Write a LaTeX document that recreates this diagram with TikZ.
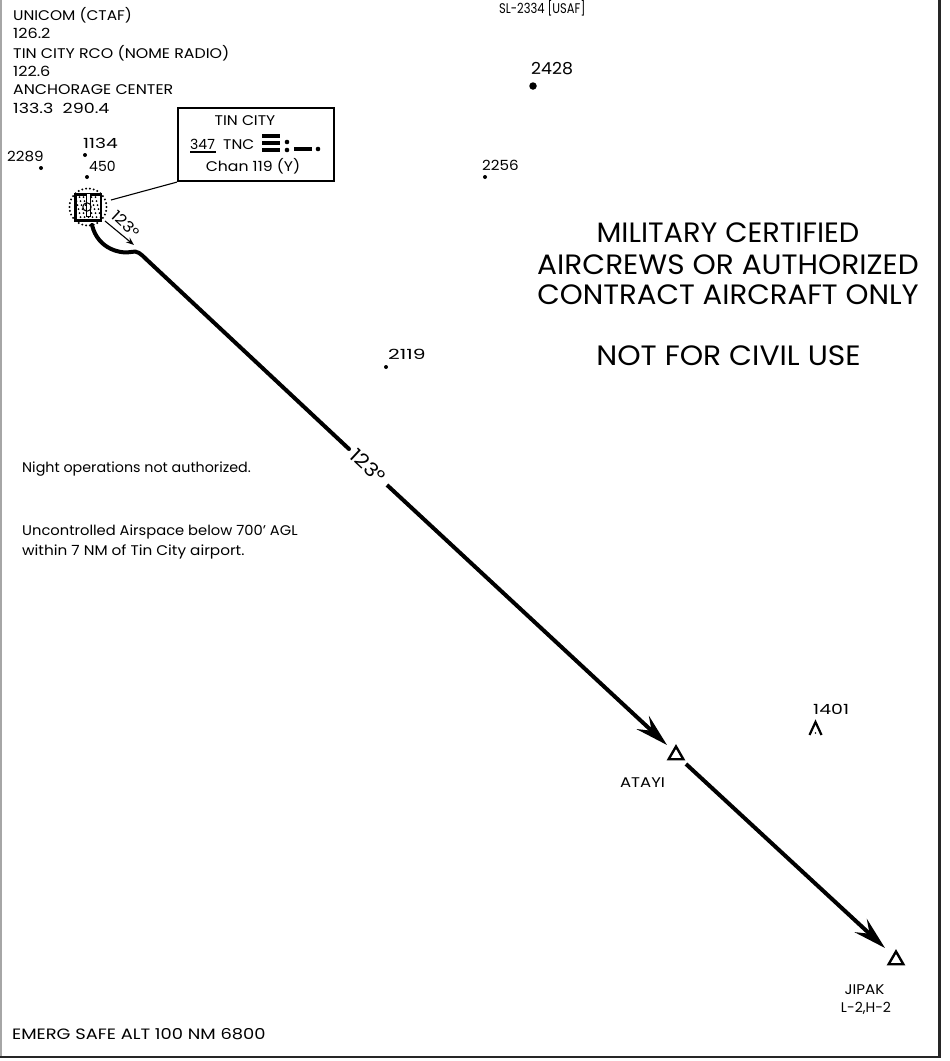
\documentclass[tikz,border=0pt]{standalone}
\usepackage{fontspec}
\setmainfont{Poppins}
\usetikzlibrary{arrows.meta,shapes.geometric}
\newcommand{\sx}[2]{\scalebox{#1}[1]{#2}}
\tikzset{
  x=1pt,y=-1pt,
  lab/.style={anchor=base west,inner sep=0,font=\fontsize{14}{16}\selectfont},
  labc/.style={anchor=base,inner sep=0,font=\fontsize{14}{16}\selectfont},
  big/.style={anchor=base,inner sep=0,font=\fontsize{28}{30}\selectfont},
  spot/.style={circle,fill=black,inner sep=0,minimum size=4pt},
  fix/.style={regular polygon,regular polygon sides=3,draw=black,line width=2.4pt,inner sep=0,minimum size=17pt},
  route/.style={line width=4pt,draw=black},
  routearrow/.style={route,-{Stealth[length=33pt,width=18pt,inset=12pt]}},
}
\begin{document}
\begin{tikzpicture}
\useasboundingbox (0,0) rectangle (950,1061);
\fill[white] (0,0) rectangle (950,1061);
% frame
\draw[gray!70,line width=1.6pt] (1,0) -- (1,1057);
\draw[black!85,line width=2.4pt] (0,1057) -- (939.5,1057) -- (939.5,0);
% comms
\node[lab] (t1) at (13,20) {\sx{1.10}{UNICOM (CTAF)}};
\node[lab] (t2) at (13,38) {\sx{1.15}{126.2}};
\node[lab] (t3) at (13,58) {\sx{1.13}{TIN CITY RCO (NOME RADIO)}};
\node[lab] (t4) at (13,76) {\sx{1.15}{122.6}};
\node[lab] (t5) at (13,94) {\sx{1.13}{ANCHORAGE CENTER}};
\node[lab] (t6) at (13,113) {\sx{1.25}{133.3\ \ 290.4}};
\node[lab] (sl) at (499,13) {\sx{0.82}{SL-2334 [USAF]}};
% navaid box
\node[draw=black,line width=2.2pt,minimum width=156pt,minimum height=73pt,inner sep=0] (box) at (256,144.5) {};
\node[labc] (b1) at (245,125) {\sx{1.11}{TIN CITY}};
\node[lab] (b2a) at (190,149) {347};
\node[lab] (b2b) at (223,149) {\sx{1.1}{TNC}};
\node[labc] (b3) at (253,171) {\sx{1.12}{Chan 119 (Y)}};
\draw[line width=1.1pt] (190,152) -- (216,152);
\foreach \yy in {136,143,150}{\draw[line width=3.2pt] (262,\yy) -- (280,\yy);}
\fill (287,142) circle (2.3pt) (287,150) circle (2.3pt) (318,149) circle (2.3pt);
\draw[line width=3.2pt] (294,149) -- (312,149);
% airport
\coordinate (apt) at (88,207);
\foreach \a in {0,12,...,348}{\fill (apt) ++(\a:18.5) circle (1.1pt);}
\foreach \i in {-10,-6,...,10}{\foreach \j in {-10,-6,...,10}{\fill (apt) ++(\i+0.25*\j,\j) circle (1pt);}}
\draw[line width=2.4pt] (75.5,194.5) rectangle (101,220.5);
\draw[line width=1pt,fill=white] (86.8,193) rectangle (90.2,216);
\draw[line width=1pt] (87,207) circle (4.2);
% leader
\coordinate (lead) at (111,200);
\draw[line width=1.1pt] (lead) -- (box.south west);
% spots
\node[spot] (s1) at (41,168) {};
\node[lab] at (7,161) {\sx{1.08}{2289}};
\node[spot] (s2) at (85,155) {};
\node[lab] at (83,148) {\sx{1.33}{1134}};
\node[spot] (s3) at (87,177) {};
\node[lab] at (89,171) {450};
\node[spot,minimum size=7.5pt] (s4) at (533,86) {};
\node[lab,font=\fontsize{16.5}{18}\selectfont] at (531,74) {\sx{1.05}{2428}};
\node[spot] (s5) at (485,177) {};
\node[lab] at (482,170) {\sx{1.08}{2256}};
\node[spot] (s6) at (386,367) {};
\node[lab] at (388,359) {\sx{1.45}{2119}};
\node[lab] at (813,714) {\sx{1.35}{1401}};
\draw[line width=2.2pt] (809.5,735) -- (815.5,722) -- (821.5,735);
\fill (815.5,733) circle (0.9pt);
% big text
\node[big] (m1) at (728,242) {\sx{1.03}{MILITARY CERTIFIED}};
\node[big] (m2) at (728,274) {\sx{1.057}{AIRCREWS OR AUTHORIZED}};
\node[big] (m3) at (728,304) {\sx{1.043}{CONTRACT AIRCRAFT ONLY}};
\node[big] (m4) at (728.5,365) {\sx{1.063}{NOT FOR CIVIL USE}};
% notes
\node[lab] (n1) at (22,472) {\sx{1.02}{Night operations not authorized.}};
\node[lab] (n2) at (22,535) {\sx{1.05}{Uncontrolled Airspace below 700' AGL}};
\node[lab] (n3) at (22,555) {\sx{1.09}{within 7 NM of Tin City airport.}};
\node[lab,font=\fontsize{15}{16}\selectfont] (e) at (12,1039) {\sx{1.19}{EMERG SAFE ALT 100 NM 6800}};
% fixes
\node[fix] (atayi) at (676,755) {};
\node[fix] (jipak) at (896,960) {};
\node[labc] at (642.5,787) {\sx{1.18}{ATAYI}};
\node[labc] at (864.5,994) {\sx{1.08}{JIPAK}};
\node[labc] at (866,1012) {L-2,H-2};
% route
\coordinate (a0) at (92,225);
\coordinate (a1) at (349,449);
\coordinate (a2) at (387,485);
\coordinate (a3) at (667,745);
\coordinate (b0) at (686,764);
\coordinate (b1x) at (885,948);
\draw[route,line cap=round] (a0) .. controls (98,250) and (122,254) .. (131,252) .. controls (137,250) and (141,254) .. (146,259) -- (a1);
\draw[routearrow] (a2) -- (a3);
\draw[routearrow] (b0) -- (b1x);
\node[rotate=-43,inner sep=0,font=\fontsize{19}{20}\selectfont] (r1) at (368,466) {\sx{1.12}{123°}};
% small course
\coordinate (c0) at (105,221);
\coordinate (c1) at (134,245);
\draw[line width=1.1pt,-{Stealth[length=8pt,width=6pt]}] (c0) -- (c1);
\node[rotate=-43,inner sep=0,font=\fontsize{15}{16}\selectfont] (r2) at (126,224) {\sx{1.12}{123°}};
\end{tikzpicture}
\end{document}
